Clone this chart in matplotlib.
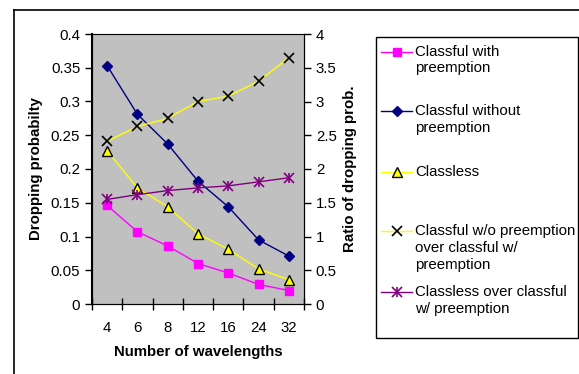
import numpy as np
import matplotlib
matplotlib.use("Agg")
import matplotlib.pyplot as plt
from matplotlib.lines import Line2D
from matplotlib.patches import Rectangle

plt.rcParams['font.family'] = ['Liberation Sans', 'DejaVu Sans']
plt.rcParams['font.size'] = 10.8

wavelengths = ['4', '6', '8', '12', '16', '24', '32']
classful_pre = [0.146, 0.107, 0.086, 0.060, 0.046, 0.029, 0.020]
classful_nopre = [0.353, 0.281, 0.237, 0.182, 0.144, 0.095, 0.071]
classless = [0.227, 0.172, 0.144, 0.104, 0.081, 0.052, 0.036]
ratio_nopre = [2.41, 2.63, 2.75, 3.00, 3.08, 3.30, 3.65]
ratio_classless = [1.55, 1.62, 1.68, 1.72, 1.75, 1.81, 1.87]

W, H = 579, 374
fig = plt.figure(figsize=(W / 100, H / 100), dpi=100)

def px(x, y):
    # pixel (from top-left) -> figure fraction
    return x / W, 1 - y / H

# outer chart border (only left/top are visible)
fig.add_artist(Line2D([14 / W, 14 / W], [0, 1 - 10 / H], color='black', lw=1.2))
fig.add_artist(Line2D([14 / W, 1], [1 - 10 / H, 1 - 10 / H], color='black', lw=1.2))

x0, x1, ytop, ybot = 92, 304, 34, 304
ax = fig.add_axes([x0 / W, 1 - ybot / H, (x1 - x0) / W, (ybot - ytop) / H])
ax.set_facecolor('#c0c0c0')
x = np.arange(len(wavelengths))

ax.plot(x, classful_pre, color='#ff00ff', lw=1, marker='s', ms=5.5,
        mfc='#ff00ff', mec='#ff00ff', zorder=3)
ax.plot(x, classful_nopre, color='#000080', lw=1, marker='D', ms=5.5,
        mfc='#000080', mec='#000080', zorder=3)
ax.plot(x, classless, color='#ffff00', lw=1, marker='^', ms=6.5,
        mfc='#ffff00', mec='black', mew=1, zorder=3)

ax.set_xlim(-0.5, len(wavelengths) - 0.5)
ax.set_ylim(0, 0.4)
ax.set_yticks(np.arange(0, 0.401, 0.05))
ax.set_yticklabels(['0', '0.05', '0.1', '0.15', '0.2', '0.25', '0.3', '0.35', '0.4'])
ax.set_xticks(x)
ax.set_xticklabels(wavelengths)
ax.set_xticks(np.arange(-0.5, len(wavelengths)), minor=True)
ax.tick_params(axis='x', which='major', length=0, pad=12)
ax.tick_params(axis='x', which='minor', direction='inout', length=8, width=1)
ax.tick_params(axis='y', direction='out', length=5, width=1)
for s in ['left', 'bottom', 'right']:
    ax.spines[s].set_color('black')
ax.spines['left'].set_linewidth(1.5)
ax.spines['top'].set_color('#808080')

ax2 = ax.twinx()
ax2.plot(x, ratio_nopre, color='#ffff00', lw=1, marker='x', ms=6.5,
         mec='black', mew=1.2, zorder=3)
ax2.plot(x, ratio_classless, color='#800080', lw=1, marker='x', ms=6.5,
         mec='#800080', mew=1.2, zorder=3)
ax2.plot(x, ratio_classless, ls='none', marker='|', ms=7.5,
         mec='#800080', mew=1.2, zorder=3)
ax2.set_ylim(0, 4)
ax2.set_yticks(np.arange(0, 4.01, 0.5))
ax2.set_yticklabels(['0', '0.5', '1', '1.5', '2', '2.5', '3', '3.5', '4'])
ax2.tick_params(axis='y', direction='out', length=5, width=1)

fig.text(*px(36, 169), 'Dropping probabilty', rotation=90, ha='center',
         va='center', fontweight='bold')
fig.text(*px(350, 169), 'Ratio of dropping prob.', rotation=90, ha='center',
         va='center', fontweight='bold')
fig.text(*px(198, 352), 'Number of wavelengths', ha='center', va='center',
         fontweight='bold')

# legend box drawn by hand so handles line up with the first text line
lx0, ly0 = px(376, 338)
lx1, ly1 = px(578, 37)
fig.add_artist(Rectangle((lx0, ly0), lx1 - lx0, ly1 - ly0, transform=fig.transFigure,
                         fill=False, ec='black', lw=1))
entries = [
    ('Classful with\npreemption', '#ff00ff',
     [dict(marker='s', ms=5.5, mfc='#ff00ff', mec='#ff00ff')]),
    ('Classful without\npreemption', '#000080',
     [dict(marker='D', ms=5.5, mfc='#000080', mec='#000080')]),
    ('Classless', '#ffff00',
     [dict(marker='^', ms=6.5, mfc='#ffff00', mec='black')]),
    ('Classful w/o preemption\nover classful w/\npreemption', '#ffff00',
     [dict(marker='x', ms=6.5, mec='black', mew=1.2)]),
    ('Classless over classful\nw/ preemption', '#800080',
     [dict(marker='x', ms=6.5, mec='#800080', mew=1.2),
      dict(marker='|', ms=7.5, mec='#800080', mew=1.2)]),
]
rows = [51.5, 111, 172, 231, 292]
for (label, color, marks), yy in zip(entries, rows):
    ya = 1 - yy / H
    fig.add_artist(Line2D([381 / W, 412 / W], [ya, ya], lw=1, color=color))
    for st in marks:
        fig.add_artist(Line2D([396.5 / W], [ya], ls='none', **st))
    fig.text(415 / W, 1 - (yy - 7) / H, label, ha='left', va='top',
             linespacing=1.27)

fig.savefig('out.png', dpi=100)
